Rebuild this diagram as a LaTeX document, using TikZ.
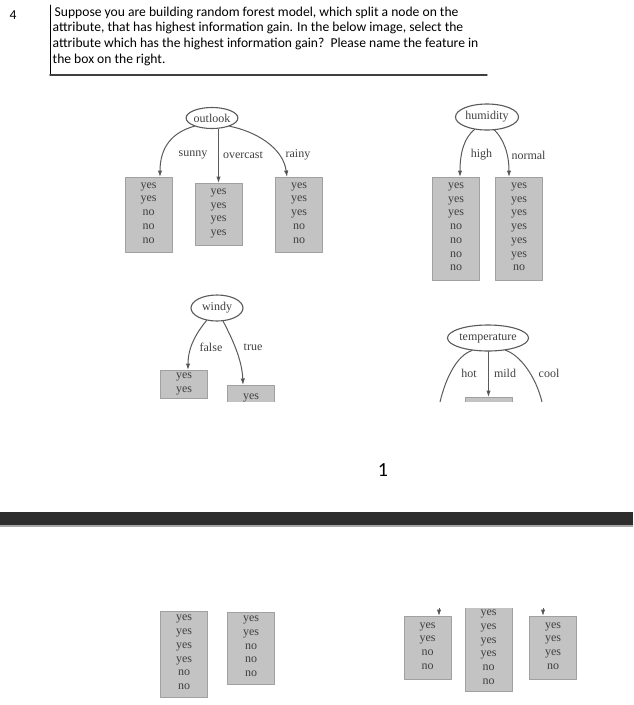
\documentclass[tikz,border=0pt]{standalone}
\usepackage{fontspec}
\setmainfont{Liberation Serif}
\newfontfamily\qfont{Carlito}
\usetikzlibrary{arrows.meta,positioning,shapes.geometric}

\definecolor{treeline}{HTML}{5A5A5A}
\definecolor{treetext}{HTML}{404040}
\definecolor{boxfill}{HTML}{C3C3C3}
\definecolor{boxline}{HTML}{A0A0A0}
\definecolor{band}{HTML}{2D2D2D}

\newcommand{\treesize}{\fontsize{12}{13.7}\selectfont}

\tikzset{
  attr/.style={ellipse,draw=treeline,line width=1.1pt,fill=white,inner sep=0pt,text=treetext,font=\treesize},
  leaf/.style={rectangle,draw=boxline,line width=0.7pt,fill=boxfill,minimum width=47pt,inner xsep=0pt,
    align=center,text=treetext,font=\treesize,execute at begin node=\strut,execute at end node=\strut},
  branch/.style={draw=treeline,line width=1pt,->},
  blabel/.style={text=treetext,font=\treesize,inner sep=0pt},
}

\begin{document}
\begin{tikzpicture}[line cap=round,line join=round,>={Latex[length=6.5pt,width=4.5pt,fill=black!80]},x=1pt,y=-1pt]
\useasboundingbox (0,0) rectangle (633,705);

% question
\node[font=\qfont\fontsize{13.6}{15.7}\selectfont,inner sep=0pt] (qnum) at (13,15) {4};
\draw[line width=0.8pt] (50,5) -- (50,75);
\draw[black!75,line width=1.4pt] (50,75) -- (487,75);
\node[anchor=north west,align=left,inner sep=0pt,font=\qfont\fontsize{13.6}{15.7}\selectfont] (question) at (52.5,6.5)
  {\hspace{2pt}Suppose you are building random forest model, which split a node on the\\
   attribute, that has highest information gain. In the below image, select the\\
   attribute which has the highest information gain?\ \ Please name the feature in\\
   the box on the right.};

\begin{scope}
\clip (0,0) rectangle (633,401);

% outlook
\node[attr,minimum width=50pt,minimum height=21pt] (outlook) at (212,118) {outlook};
\node[leaf,anchor=north,minimum height=75pt] (sunnyleaf) at (148.5,177) {yes\\yes\\no\\no\\no};
\node[leaf,anchor=north,minimum height=62pt] (overcastleaf) at (218.5,183) {yes\\yes\\yes\\yes};
\node[leaf,anchor=north,minimum height=75pt] (rainyleaf) at (299,177) {yes\\yes\\yes\\no\\no};
\draw[branch] (outlook.205) .. controls +(-22,6) and +(0,-30) .. ([xshift=11.5pt]sunnyleaf.north);
\draw[branch] (outlook.south -| overcastleaf.north) -- (overcastleaf.north);
\draw[branch] (outlook.335) .. controls +(25,5) and +(-4,-30) .. ([xshift=-12pt]rainyleaf.north);
\node[blabel] (lsunny) at (193,155) {sunny};
\node[blabel] (lovercast) at (243,155) {overcast};
\node[blabel] (lrainy) at (298,155) {rainy};

% humidity
\node[attr,minimum width=63pt,minimum height=26pt] (humidity) at (487,117) {humidity};
\node[leaf,anchor=north,minimum height=103pt] (highleaf) at (456,177) {yes\\yes\\yes\\no\\no\\no\\no};
\node[leaf,anchor=north,minimum height=103pt] (normalleaf) at (519,177) {yes\\yes\\yes\\yes\\yes\\yes\\no};
\draw[branch] (humidity.225) .. controls +(-10,8) and +(0,-25) .. ([xshift=4pt]highleaf.north);
\draw[branch] (humidity.300) .. controls +(8,8) and +(0,-25) .. ([xshift=-10pt]normalleaf.north);
\node[blabel] (lhigh) at (481.5,155) {high};
\node[blabel] (lnormal) at (528.5,155) {normal};

% windy
\node[attr,minimum width=52pt,minimum height=26pt] (windy) at (217,308) {windy};
\node[leaf,anchor=north,inner ysep=2.3pt] (falseleaf) at (184,370) {yes\\yes};
\node[leaf,anchor=north,inner ysep=4.2pt] (trueleaf) at (251,385) {yes};
\draw[branch] (windy.230) .. controls +(-8,10) and +(0,-25) .. ([xshift=4pt]falseleaf.north);
\draw[branch] (windy.295) .. controls +(6,12) and +(-1,-28) .. ([xshift=-8pt]trueleaf.north);
\node[blabel] (lfalse) at (211,347) {false};
\node[blabel] (ltrue) at (253,347) {true};

% temperature
\node[attr,minimum width=78pt,minimum height=26pt] (temperature) at (488,338) {temperature};
\node[leaf,anchor=north,minimum height=20pt] (mildtop) at (488.5,397) {};
\coordinate (hotend) at (440,402);
\coordinate (coolend) at (542,402);
\draw[branch,-] (temperature.218) .. controls +(-15,5) and +(6,-25) .. (hotend);
\draw[branch] (temperature.south -| mildtop.north) -- (mildtop.north);
\draw[branch,-] (temperature.325) .. controls +(15,5) and +(-6,-25) .. (coolend);
\node[blabel] (lhot) at (469,373) {hot};
\node[blabel] (lmild) at (505,373) {mild};
\node[blabel] (lcool) at (549,373) {cool};
\end{scope}

% page break
\node[font=\qfont\fontsize{20}{24}\selectfont,inner sep=0pt] (pagenum) at (383,470) {1};
\fill[band] (0,512) rectangle (633,525);
\fill[black!35] (0,525) rectangle (633,526.5);

\begin{scope}
\clip (0,608) rectangle (633,705);
\node[leaf,anchor=south,inner ysep=4.1pt] (falserest) at (184,698) {yes\\yes\\yes\\yes\\no\\no};
\node[leaf,anchor=south,inner ysep=4.1pt] (truerest) at (251,685) {yes\\yes\\no\\no\\no};
\node[leaf,anchor=north,minimum height=63pt] (hotleaf) at (427.5,616) {yes\\yes\\no\\no};
\node[leaf,anchor=south,inner ysep=3.2pt] (mildleaf) at (488.5,692) {yes\\yes\\yes\\yes\\no\\no};
\node[leaf,anchor=north,minimum height=63pt] (coolleaf) at (553,616) {yes\\yes\\yes\\no};
\coordinate (hotcut) at (439,606);
\coordinate (coolcut) at (543,606);
\draw[branch] (hotcut) -- (hotleaf.north -| hotcut);
\draw[branch] (coolcut) -- (coolleaf.north -| coolcut);
\end{scope}

\end{tikzpicture}
\end{document}
